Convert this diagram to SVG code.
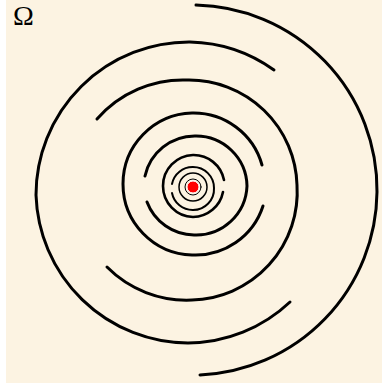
<svg xmlns="http://www.w3.org/2000/svg" width="382" height="383" viewBox="0 0 382 383">
<style>
.lv{fill:none;stroke:#000;stroke-linecap:round}
.w3{stroke-width:3}
.w25{stroke-width:2.6}
.w2{stroke-width:2}
.w15{stroke-width:1.5}
.w1{stroke-width:1}
</style>
<rect x="0" y="0" width="382" height="383" fill="#ffffff"/>
<rect x="6" y="0" width="376" height="383" fill="#fcf3e2"/>
<text x="13" y="25" font-family="Liberation Serif, DejaVu Serif, serif" font-size="28" fill="#000">Ω</text>
<g id="levels">
<path class="lv w3" d="M196,5 A185,185 0 0 1 377,192 A185,185 0 0 1 200,375"/>
<path class="lv w3" d="M274,70 A150,150 0 0 0 190,42 A153,153 0 0 0 36,195 A153,153 0 0 0 188,343 A150,150 0 0 0 290,302"/>
<path class="lv w3" d="M97,119 A114,114 0 0 1 188,80 A108,108 0 0 1 297,185 A108,108 0 0 1 192,300 A112,112 0 0 1 107,267"/>
<path class="lv w3" d="M263,206 A71,71 0 0 1 192,255 A71,71 0 0 1 123,184 A71,71 0 0 1 192,113 A71,71 0 0 1 262,165"/>
<path class="lv w3" d="M145,176 A51,51 0 0 1 195,136 A51,51 0 0 1 247,186 A51,51 0 0 1 194,235 A51,51 0 0 1 147,202"/>
<path class="lv w25" d="M223,192 A31,31 0 0 1 193,217 A31,31 0 0 1 163,186 A31,31 0 0 1 193,155 A31,31 0 0 1 224,180"/>
<path class="lv w2" d="M172,184 A21,21 0 0 1 193,167 A21,21 0 0 1 214,188 A21,21 0 0 1 193,210 A21,21 0 0 1 172,193"/>
<circle class="lv w15" cx="193" cy="187" r="14"/>
<circle class="lv w1" cx="193" cy="187" r="8"/>
</g>
<circle cx="193" cy="187" r="6" fill="#ff0000" stroke="#ffffff" stroke-width="1"/>
</svg>
